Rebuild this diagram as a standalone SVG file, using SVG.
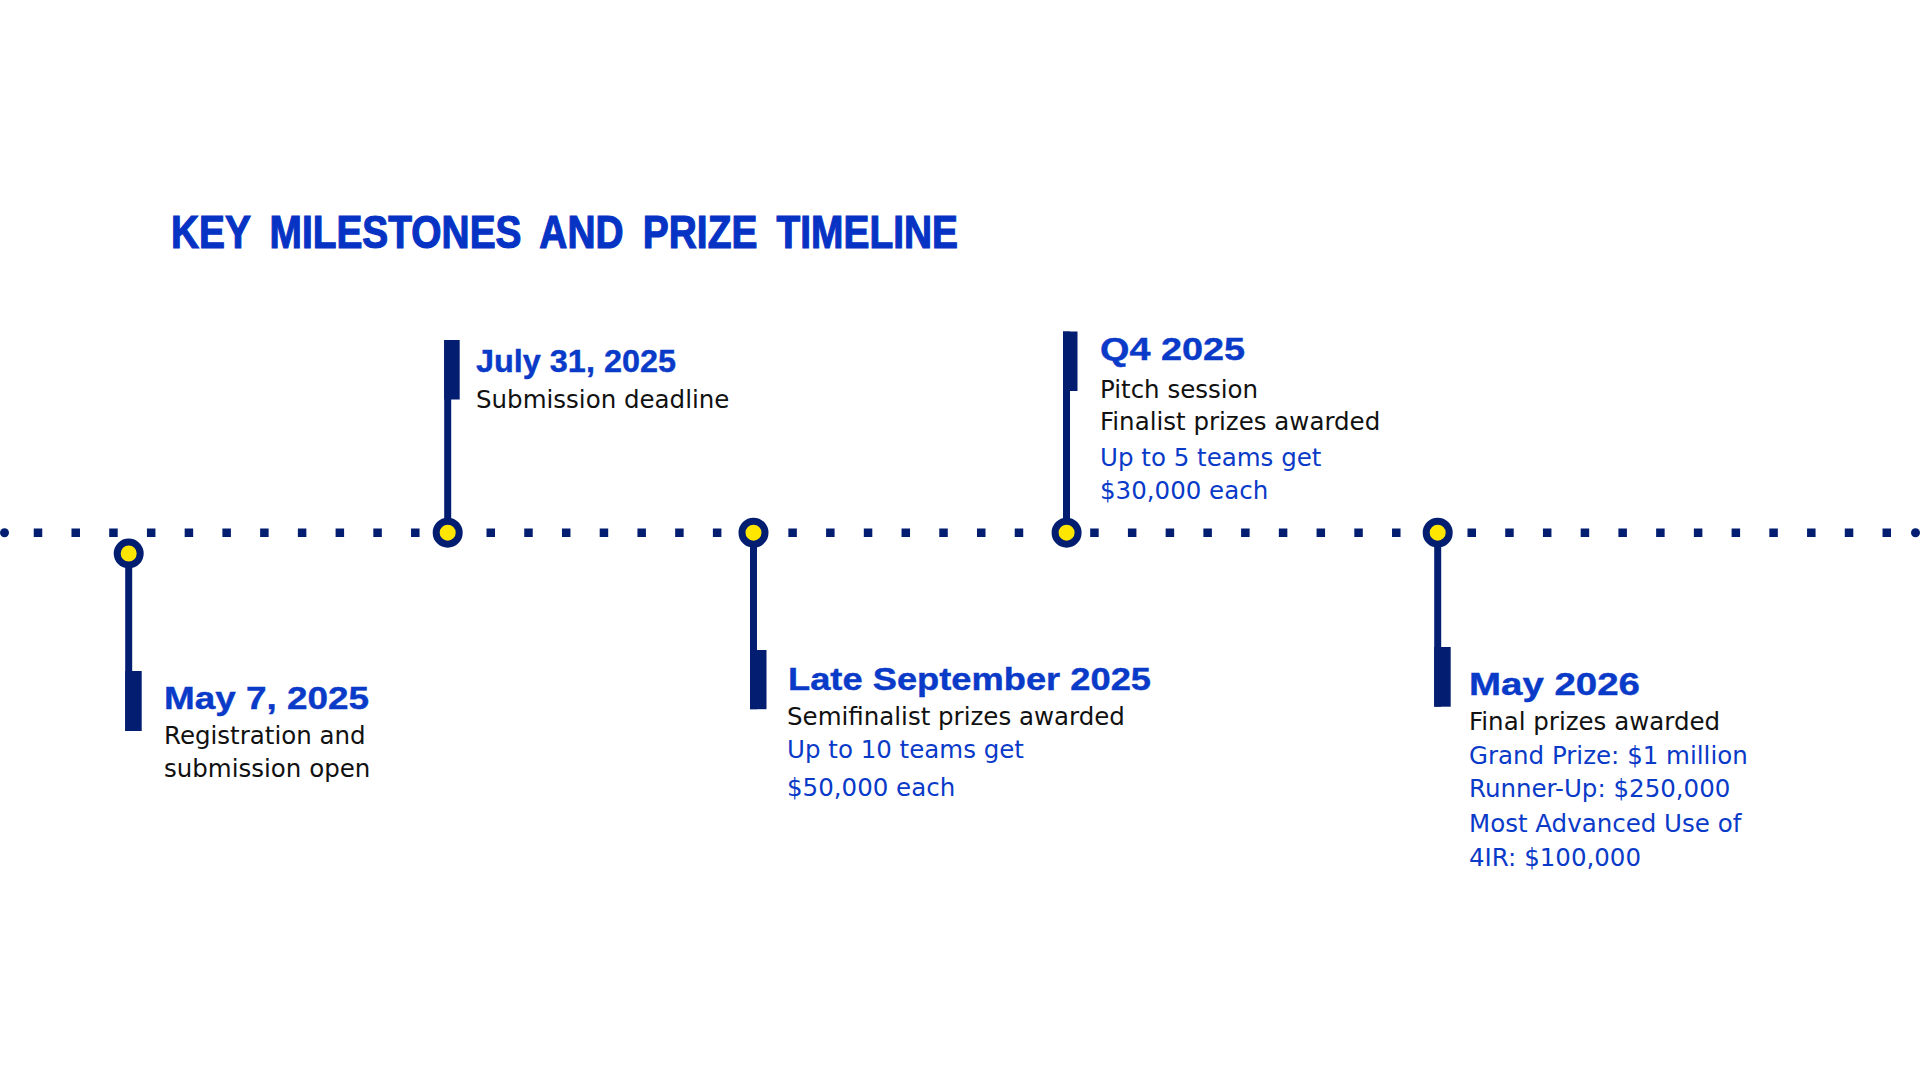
<svg xmlns="http://www.w3.org/2000/svg" width="1920" height="1080" viewBox="0 0 1920 1080">
<style>
.title{font-family:"Liberation Sans",Arial,sans-serif;font-weight:bold;font-size:46px;fill:#0633C4;stroke:#0633C4;stroke-width:1.2;word-spacing:10px}
.head{font-family:"Liberation Sans",Arial,sans-serif;font-weight:bold;font-size:31.5px;fill:#0A3AC8;stroke:#0A3AC8;stroke-width:0.4}
.body{font-family:"DejaVu Sans",Verdana,sans-serif;font-size:24.5px;fill:#111111}
.blue{fill:#0A3AC8}
.stem{fill:#031E70}
.dot{fill:#FFE600;stroke:#031E70;stroke-width:7}
</style>
<rect x="0" y="0" width="1920" height="1080" fill="#FFFFFF"/>
<text class="title" x="171" y="248" textLength="787" lengthAdjust="spacingAndGlyphs">KEY MILESTONES AND PRIZE TIMELINE</text>
<g id="connectors">
<line x1="33.75" y1="532.7" x2="1891.1" y2="532.7" stroke="#031E70" stroke-width="8.5" stroke-dasharray="8.5 29.23"/>
<circle cx="4.5" cy="532.7" r="4.5" fill="#031E70"/>
<circle cx="1915.5" cy="532.7" r="4.5" fill="#031E70"/>
</g>
<g id="m1">
<rect class="stem" x="125.2" y="553.5" width="7" height="177.5"/>
<rect class="stem" x="125.2" y="671" width="16.5" height="60"/>
<circle class="dot" cx="128.7" cy="553.5" r="11.5"/>
<text class="head" x="164" y="709" textLength="205" lengthAdjust="spacingAndGlyphs">May 7, 2025</text>
<text class="body" x="164" y="744">Registration and</text>
<text class="body" x="164" y="777">submission open</text>
</g>
<g id="m2">
<rect class="stem" x="444.2" y="340" width="7" height="192.7"/>
<rect class="stem" x="444.2" y="340" width="15.5" height="59.5"/>
<circle class="dot" cx="447.7" cy="532.7" r="11.5"/>
<text class="head" x="476" y="371.5" textLength="200" lengthAdjust="spacingAndGlyphs">July 31, 2025</text>
<text class="body" x="476" y="408">Submission deadline</text>
</g>
<g id="m3">
<rect class="stem" x="750" y="532.7" width="7" height="176.5"/>
<rect class="stem" x="750" y="650" width="16.5" height="59.2"/>
<circle class="dot" cx="753.5" cy="532.7" r="11.5"/>
<text class="head" x="788" y="690" textLength="363" lengthAdjust="spacingAndGlyphs">Late September 2025</text>
<text class="body" x="787" y="724.5">Semifinalist prizes awarded</text>
<text class="body blue" x="787" y="758.3">Up to 10 teams get</text>
<text class="body blue" x="787" y="795.5">$50,000 each</text>
</g>
<g id="m4">
<rect class="stem" x="1063" y="331.5" width="7" height="201.2"/>
<rect class="stem" x="1063" y="331.5" width="14.5" height="59.5"/>
<circle class="dot" cx="1066.6" cy="532.7" r="11.5"/>
<text class="head" x="1100" y="360" textLength="145" lengthAdjust="spacingAndGlyphs">Q4 2025</text>
<text class="body" x="1100" y="398.3">Pitch session</text>
<text class="body" x="1100" y="430">Finalist prizes awarded</text>
<text class="body blue" x="1100" y="466">Up to 5 teams get</text>
<text class="body blue" x="1100" y="499.3">$30,000 each</text>
</g>
<g id="m5">
<rect class="stem" x="1434.2" y="532.7" width="7" height="174"/>
<rect class="stem" x="1434.2" y="647" width="16.5" height="59.7"/>
<circle class="dot" cx="1437.7" cy="532.7" r="11.5"/>
<text class="head" x="1469" y="695" textLength="171" lengthAdjust="spacingAndGlyphs">May 2026</text>
<text class="body" x="1469" y="730">Final prizes awarded</text>
<text class="body blue" x="1469" y="764.3">Grand Prize: $1 million</text>
<text class="body blue" x="1469" y="797.3">Runner-Up: $250,000</text>
<text class="body blue" x="1469" y="831.7">Most Advanced Use of</text>
<text class="body blue" x="1469" y="866">4IR: $100,000</text>
</g>
</svg>
